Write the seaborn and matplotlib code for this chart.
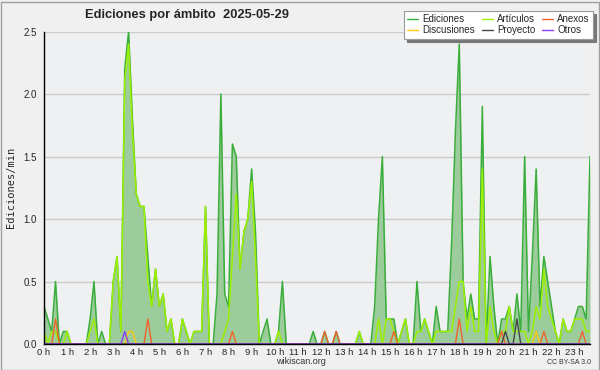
import pandas as pd
import matplotlib
matplotlib.use('Agg')
import matplotlib.pyplot as plt
import seaborn as sns
from matplotlib.lines import Line2D
from matplotlib.patches import Rectangle
from matplotlib.ticker import MultipleLocator, FormatStrFormatter

# Edits per minute, one value every 10 minutes (00:00 .. 23:40), one row per hour
ediciones = [
    0.3, 0.2, 0.1, 0.5, 0.0, 0.1,
    0.1, 0.0, 0.0, 0.0, 0.0, 0.0,
    0.2, 0.5, 0.0, 0.1, 0.0, 0.0,
    0.5, 0.7, 0.1, 2.2, 2.5, 1.8,
    1.2, 1.1, 1.1, 0.7, 0.3, 0.6,
    0.3, 0.4, 0.1, 0.2, 0.0, 0.0,
    0.2, 0.1, 0.0, 0.1, 0.1, 0.1,
    1.1, 0.0, 0.0, 0.4, 2.0, 0.4,
    0.3, 1.6, 1.5, 0.6, 0.9, 1.0,
    1.4, 0.9, 0.0, 0.1, 0.2, 0.0,
    0.0, 0.1, 0.5, 0.0, 0.0, 0.0,
    0.0, 0.0, 0.0, 0.0, 0.1, 0.0,
    0.0, 0.1, 0.0, 0.0, 0.1, 0.0,
    0.0, 0.0, 0.0, 0.0, 0.1, 0.0,
    0.0, 0.0, 0.3, 1.0, 1.5, 0.2,
    0.2, 0.2, 0.0, 0.1, 0.2, 0.0,
    0.0, 0.5, 0.1, 0.2, 0.1, 0.0,
    0.3, 0.1, 0.1, 0.1, 0.8, 1.7,
    2.4, 0.5, 0.2, 0.4, 0.2, 0.2,
    1.9, 0.0, 0.7, 0.3, 0.0, 0.2,
    0.2, 0.3, 0.1, 0.4, 0.1, 1.5,
    0.1, 0.7, 1.4, 0.3, 0.7, 0.5,
    0.3, 0.1, 0.0, 0.2, 0.1, 0.1,
    0.2, 0.3, 0.3, 0.2, 1.5,
]
articulos = [
    0.1, 0.0, 0.1, 0.1, 0.0, 0.0,
    0.1, 0.0, 0.0, 0.0, 0.0, 0.0,
    0.1, 0.2, 0.0, 0.0, 0.0, 0.0,
    0.5, 0.7, 0.1, 2.1, 2.4, 1.7,
    1.2, 1.1, 1.1, 0.5, 0.3, 0.6,
    0.3, 0.4, 0.1, 0.2, 0.0, 0.0,
    0.2, 0.1, 0.0, 0.1, 0.1, 0.1,
    1.1, 0.0, 0.0, 0.0, 0.0, 0.1,
    0.2, 0.7, 1.2, 0.6, 0.9, 1.0,
    1.3, 0.7, 0.0, 0.0, 0.0, 0.0,
    0.0, 0.1, 0.0, 0.0, 0.0, 0.0,
    0.0, 0.0, 0.0, 0.0, 0.0, 0.0,
    0.0, 0.0, 0.0, 0.0, 0.0, 0.0,
    0.0, 0.0, 0.0, 0.0, 0.1, 0.0,
    0.0, 0.0, 0.0, 0.2, 0.0, 0.2,
    0.2, 0.1, 0.0, 0.1, 0.2, 0.0,
    0.0, 0.1, 0.1, 0.2, 0.1, 0.0,
    0.1, 0.1, 0.1, 0.1, 0.1, 0.3,
    0.5, 0.5, 0.1, 0.3, 0.1, 0.1,
    1.4, 0.0, 0.3, 0.1, 0.0, 0.1,
    0.1, 0.3, 0.1, 0.1, 0.1, 0.1,
    0.0, 0.1, 0.3, 0.2, 0.6, 0.3,
    0.2, 0.1, 0.0, 0.2, 0.1, 0.1,
    0.2, 0.2, 0.2, 0.1, 0.1,
]
anexos = [
    0.0, 0.0, 0.0, 0.2, 0.0, 0.0,
    0.0, 0.0, 0.0, 0.0, 0.0, 0.0,
    0.0, 0.0, 0.0, 0.0, 0.0, 0.0,
    0.0, 0.0, 0.0, 0.0, 0.0, 0.0,
    0.0, 0.0, 0.0, 0.2, 0.0, 0.0,
    0.0, 0.0, 0.0, 0.0, 0.0, 0.0,
    0.0, 0.0, 0.0, 0.0, 0.0, 0.0,
    0.0, 0.0, 0.0, 0.0, 0.0, 0.0,
    0.0, 0.1, 0.0, 0.0, 0.0, 0.0,
    0.0, 0.0, 0.0, 0.0, 0.0, 0.0,
    0.0, 0.0, 0.0, 0.0, 0.0, 0.0,
    0.0, 0.0, 0.0, 0.0, 0.0, 0.0,
    0.0, 0.1, 0.0, 0.0, 0.1, 0.0,
    0.0, 0.0, 0.0, 0.0, 0.0, 0.0,
    0.0, 0.0, 0.0, 0.0, 0.0, 0.0,
    0.0, 0.1, 0.0, 0.0, 0.0, 0.0,
    0.0, 0.0, 0.0, 0.0, 0.0, 0.0,
    0.0, 0.0, 0.0, 0.0, 0.0, 0.0,
    0.2, 0.0, 0.0, 0.0, 0.0, 0.0,
    0.0, 0.0, 0.0, 0.0, 0.0, 0.1,
    0.0, 0.0, 0.0, 0.0, 0.0, 0.0,
    0.0, 0.0, 0.0, 0.0, 0.1, 0.0,
    0.0, 0.0, 0.0, 0.0, 0.0, 0.0,
    0.0, 0.0, 0.1, 0.0, 0.0,
]
discusiones = [
    0.0, 0.0, 0.0, 0.0, 0.0, 0.0,
    0.0, 0.0, 0.0, 0.0, 0.0, 0.0,
    0.0, 0.0, 0.0, 0.0, 0.0, 0.0,
    0.0, 0.0, 0.0, 0.0, 0.1, 0.1,
    0.0, 0.0, 0.0, 0.0, 0.0, 0.0,
    0.0, 0.0, 0.0, 0.0, 0.0, 0.0,
    0.0, 0.0, 0.0, 0.0, 0.0, 0.0,
    0.0, 0.0, 0.0, 0.0, 0.0, 0.0,
    0.0, 0.0, 0.0, 0.0, 0.0, 0.0,
    0.0, 0.0, 0.0, 0.0, 0.0, 0.0,
    0.0, 0.0, 0.0, 0.0, 0.0, 0.0,
    0.0, 0.0, 0.0, 0.0, 0.0, 0.0,
    0.0, 0.0, 0.0, 0.0, 0.0, 0.0,
    0.0, 0.0, 0.0, 0.0, 0.0, 0.0,
    0.0, 0.0, 0.0, 0.0, 0.0, 0.0,
    0.0, 0.0, 0.0, 0.0, 0.0, 0.0,
    0.0, 0.0, 0.0, 0.0, 0.0, 0.0,
    0.0, 0.0, 0.0, 0.0, 0.0, 0.0,
    0.0, 0.0, 0.0, 0.0, 0.0, 0.0,
    0.0, 0.0, 0.0, 0.0, 0.0, 0.0,
    0.0, 0.0, 0.0, 0.0, 0.0, 0.0,
    0.0, 0.0, 0.1, 0.0, 0.0, 0.0,
    0.0, 0.0, 0.0, 0.0, 0.0, 0.0,
    0.0, 0.0, 0.0, 0.0, 0.0,
]
proyecto = [
    0.0, 0.0, 0.0, 0.0, 0.0, 0.0,
    0.0, 0.0, 0.0, 0.0, 0.0, 0.0,
    0.0, 0.0, 0.0, 0.0, 0.0, 0.0,
    0.0, 0.0, 0.0, 0.0, 0.0, 0.0,
    0.0, 0.0, 0.0, 0.0, 0.0, 0.0,
    0.0, 0.0, 0.0, 0.0, 0.0, 0.0,
    0.0, 0.0, 0.0, 0.0, 0.0, 0.0,
    0.0, 0.0, 0.0, 0.0, 0.0, 0.0,
    0.0, 0.0, 0.0, 0.0, 0.0, 0.0,
    0.0, 0.0, 0.0, 0.0, 0.0, 0.0,
    0.0, 0.0, 0.0, 0.0, 0.0, 0.0,
    0.0, 0.0, 0.0, 0.0, 0.0, 0.0,
    0.0, 0.0, 0.0, 0.0, 0.0, 0.0,
    0.0, 0.0, 0.0, 0.0, 0.0, 0.0,
    0.0, 0.0, 0.0, 0.0, 0.0, 0.0,
    0.0, 0.0, 0.0, 0.0, 0.0, 0.0,
    0.0, 0.0, 0.0, 0.0, 0.0, 0.0,
    0.0, 0.0, 0.0, 0.0, 0.0, 0.0,
    0.0, 0.0, 0.0, 0.0, 0.0, 0.0,
    0.0, 0.0, 0.0, 0.0, 0.0, 0.0,
    0.1, 0.0, 0.0, 0.2, 0.0, 0.0,
    0.0, 0.0, 0.0, 0.0, 0.0, 0.0,
    0.0, 0.0, 0.0, 0.0, 0.0, 0.0,
    0.0, 0.0, 0.0, 0.0, 0.0,
]
otros = [
    0.0, 0.0, 0.0, 0.0, 0.0, 0.0,
    0.0, 0.0, 0.0, 0.0, 0.0, 0.0,
    0.0, 0.0, 0.0, 0.0, 0.0, 0.0,
    0.0, 0.0, 0.0, 0.1, 0.0, 0.0,
    0.0, 0.0, 0.0, 0.0, 0.0, 0.0,
    0.0, 0.0, 0.0, 0.0, 0.0, 0.0,
    0.0, 0.0, 0.0, 0.0, 0.0, 0.0,
    0.0, 0.0, 0.0, 0.0, 0.0, 0.0,
    0.0, 0.0, 0.0, 0.0, 0.0, 0.0,
    0.0, 0.0, 0.0, 0.0, 0.0, 0.0,
    0.0, 0.0, 0.0, 0.0, 0.0, 0.0,
    0.0, 0.0, 0.0, 0.0, 0.0, 0.0,
    0.0, 0.0, 0.0, 0.0, 0.0, 0.0,
    0.0, 0.0, 0.0, 0.0, 0.0, 0.0,
    0.0, 0.0, 0.0, 0.0, 0.0, 0.0,
    0.0, 0.0, 0.0, 0.0, 0.0, 0.0,
    0.0, 0.0, 0.0, 0.0, 0.0, 0.0,
    0.0, 0.0, 0.0, 0.0, 0.0, 0.0,
    0.0, 0.0, 0.0, 0.0, 0.0, 0.0,
    0.0, 0.0, 0.0, 0.0, 0.0, 0.0,
    0.0, 0.0, 0.0, 0.0, 0.0, 0.0,
    0.0, 0.0, 0.0, 0.0, 0.0, 0.0,
    0.0, 0.0, 0.0, 0.0, 0.0, 0.0,
    0.0, 0.0, 0.0, 0.0, 0.0,
]

minutos = list(range(0, 1430, 10))
horas = [f'{h} h' for h in range(24)]

series = {
    'Ediciones': ediciones,
    'Artículos': articulos,
    'Anexos': anexos,
    'Discusiones': discusiones,
    'Proyecto': proyecto,
    'Otros': otros,
}
colores = {
    'Ediciones': '#3aae3a',
    'Artículos': '#9cf000',
    'Anexos': '#f0622a',
    'Discusiones': '#ffc80a',
    'Proyecto': '#444444',
    'Otros': '#8a3cf0',
}
grosor = {'Ediciones': 1.1, 'Artículos': 1.1, 'Anexos': 1.0,
          'Discusiones': 1.0, 'Proyecto': 1.0, 'Otros': 1.0}

df = pd.concat([
    pd.DataFrame({'hora': [m / 60 for m in minutos], 'valor': v, 'ambito': k})
    for k, v in series.items()
])

sns.set_style('white')
plt.rcParams['font.family'] = ['Liberation Sans', 'DejaVu Sans']

fig = plt.figure(figsize=(6, 3.7), dpi=100, facecolor='#f0f0f0')
ax = fig.add_axes([44 / 600, 1 - 344 / 370, 546 / 600, 312.5 / 370])
ax.set_facecolor('#eef0f1')

# Filled area for all edits
ed = df[df['ambito'] == 'Ediciones']
ax.fill_between(ed['hora'], ed['valor'], color='#9ccb9c', lw=0, zorder=1)

for nombre in series:
    sns.lineplot(data=df[df['ambito'] == nombre], x='hora', y='valor',
                 color=colores[nombre], linewidth=grosor[nombre],
                 errorbar=None, ax=ax, zorder=2)

ax.set_xlim(0, minutos[-1] / 60)
ax.set_ylim(0, 2.5)
ax.set_xticks(range(24))
ax.set_xticklabels(horas)
ax.xaxis.set_minor_locator(MultipleLocator(1 / 6))
ax.yaxis.set_major_locator(MultipleLocator(0.5))
ax.yaxis.set_minor_locator(MultipleLocator(0.1))
ax.yaxis.set_major_formatter(FormatStrFormatter('%.1f'))
ax.tick_params(axis='x', which='both', direction='out', length=2.5, width=1,
               color='black', labelsize=6.8, pad=0.3)
ax.tick_params(axis='y', which='major', direction='out', length=4.5, width=1,
               color='black', labelsize=7, pad=0.8)
ax.tick_params(axis='y', which='minor', direction='out', length=2.5, width=1,
               color='black')
ax.yaxis.grid(True, color='#cccccc', lw=1)
ax.xaxis.grid(False)
ax.set_axisbelow(True)
for s in ['top', 'right']:
    ax.spines[s].set_visible(False)
for s in ['left', 'bottom']:
    ax.spines[s].set_color('black')
    ax.spines[s].set_linewidth(1)
    ax.spines[s].set_zorder(5)
ax.set_xlabel('')
ax.set_ylabel('Ediciones/min', fontsize=7.5, family='DejaVu Sans Mono', labelpad=5)

handles = [Line2D([], [], color=colores[n], lw=1) for n in series]
orden = [0, 3, 1, 4, 2, 5]
leg = ax.legend([handles[i] for i in orden], [list(series)[i] for i in orden],
                ncol=3, loc='upper right', bbox_to_anchor=(593 / 600, 1 - 11 / 370),
                bbox_transform=fig.transFigure, borderaxespad=0, fontsize=7,
                frameon=True, fancybox=False, shadow={'color': '#777777', 'alpha': 1},
                edgecolor='#999999', facecolor='white', framealpha=1,
                handlelength=1.1, handletextpad=0.45, columnspacing=0.7,
                labelspacing=0.1, borderpad=0.35)
leg.get_frame().set_linewidth(0.8)

fig.text(85 / 600, 1 - 15 / 370, 'Ediciones por ámbito  2025-05-29',
         fontsize=9.3, fontweight='bold', ha='left', va='center')
fig.text(301 / 600, 1 - 362 / 370, 'wikiscan.org', fontsize=6.5,
         ha='center', va='center', color='#333333')
fig.text(591 / 600, 1 - 363 / 370, 'CC BY-SA 3.0', fontsize=5,
         ha='right', va='center', color='#333333')
fig.patches.append(Rectangle((0.5 / 600, 0.5 / 370), 598 / 600, 368 / 370,
                             transform=fig.transFigure, fill=False,
                             edgecolor='#a0a0a0', lw=1))

fig.savefig('out.png', dpi=100, facecolor=fig.get_facecolor())
